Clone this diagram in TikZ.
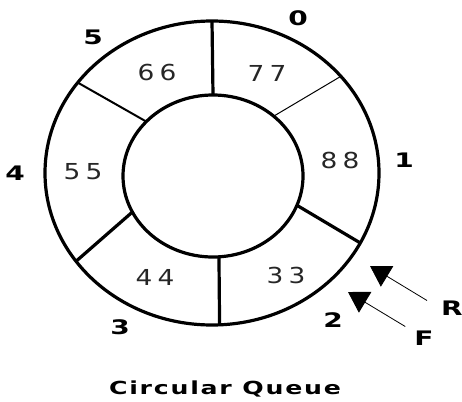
\documentclass[tikz,border=0pt]{standalone}
\usepackage{fontspec}
\setmainfont{DejaVu Sans}
\newfontfamily\valuefont{DejaVu Sans}[LetterSpace=20]
\newfontfamily\indexfont{DejaVu Sans Bold}
\newfontfamily\titlefont{DejaVu Sans Bold}[LetterSpace=7]
\newcommand{\valuewide}[1]{\scalebox{1.2}[1]{#1}}
\newcommand{\indexwide}[1]{\scalebox{1.4}[1]{#1}}
\usetikzlibrary{arrows.meta, calc}
\tikzstyle{ring_line}=[line width=3.2pt, black]
\tikzstyle{slot_value}=[text=black!85, font=\valuefont\fontsize{22}{24}\selectfont, inner sep=0]
\tikzstyle{slot_index}=[font=\indexfont\fontsize{20}{22}\selectfont, inner sep=0]
\tikzstyle{ptr_arrow}=[line width=0.8pt, -{Triangle[length=20pt,width=24pt]}]

\begin{document}
\begin{tikzpicture}[x=1pt,y=-1pt]
\useasboundingbox (0,0) rectangle (462,401);

% queue ring
\coordinate (ring_out) at (212,173);
\coordinate (ring_in)  at (213,176);
\draw[ring_line] (ring_out) ellipse [x radius=167, y radius=152];
\draw[ring_line] (ring_in) ellipse [x radius=90, y radius=81];

% slot dividers (outer angle / inner angle / width)
\foreach \ao/\ai/\w in {90/90/3.2, 39.5/47.6/1, -27.4/-21.2/3.2,
                        -87.4/-86.2/3.2, -144.5/-153.6/3.2, 143.5/137.8/2}
    \draw[line width=\w pt] ($(ring_in)+(-\ai:90 and 81)$) -- ($(ring_out)+(-\ao:167 and 152)$);

% slot values
\node [slot_value] (val_0) at (267,73)  {\valuewide{77}};
\node [slot_value] (val_1) at (340,160) {\valuewide{88}};
\node [slot_value] (val_2) at (286,275) {\valuewide{33}};
\node [slot_value] (val_3) at (155,277) {\valuewide{44}};
\node [slot_value] (val_4) at (83,172)  {\valuewide{55}};
\node [slot_value] (val_5) at (157,72)  {\valuewide{66}};

% slot indices
\node [slot_index] (idx_0) at (298,18)  {\indexwide{0}};
\node [slot_index] (idx_1) at (404,160) {\indexwide{1}};
\node [slot_index] (idx_2) at (333,320) {\indexwide{2}};
\node [slot_index] (idx_3) at (120,327) {\indexwide{3}};
\node [slot_index] (idx_4) at (15,173)  {\indexwide{4}};
\node [slot_index] (idx_5) at (93,37)   {\indexwide{5}};

% rear and front pointers
\node [slot_index] (rear)  at (452,308) {\indexwide{R}};
\node [slot_index] (front) at (424,338) {\indexwide{F}};
\coordinate (rear_tip)  at (370,266);
\coordinate (front_tip) at (348,292);
\draw[ptr_arrow] (rear.north west) ++(-14,0) -- (rear_tip);
\draw[ptr_arrow] (front.north west) ++(-9,-4) -- (front_tip);

% caption
\node [font=\titlefont\fontsize{18}{20}\selectfont, inner sep=0] (caption) at (225,389) {\indexwide{Circular Queue}};

\end{tikzpicture}
\end{document}
